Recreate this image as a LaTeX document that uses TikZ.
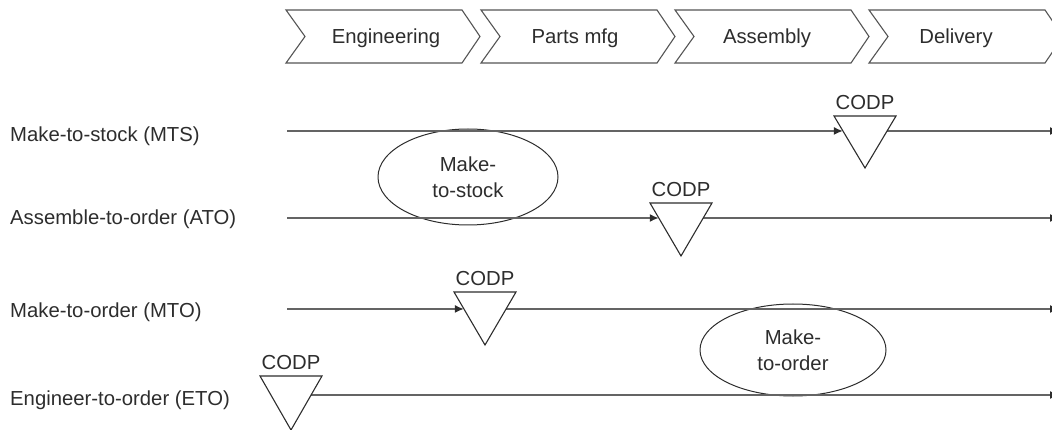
\documentclass[tikz,border=0pt]{standalone}
\usepackage{fontspec}
\setmainfont{Liberation Sans}
\usetikzlibrary{arrows.meta,calc,shapes.geometric}
\definecolor{ink}{RGB}{45,45,45}
\definecolor{flow}{RGB}{100,100,100}
\definecolor{edge}{RGB}{85,85,85}

\begin{document}
\begin{tikzpicture}[x=1pt,y=-1pt,
  txt/.style={font=\fontsize{20.3}{26}\selectfont, text=ink, inner sep=0pt},
  stage/.style={draw=edge, line width=1.1pt, fill=white, line join=miter},
  flowline/.style={draw=flow, line width=1.6pt},
  tip/.style={-{Latex[length=9pt,width=8pt,color=ink]}},
  codpmark/.style={draw=ink, line width=1.1pt, line join=miter},
  zone/.style={ellipse, draw=ink, line width=1pt, align=center}
]
\useasboundingbox (0,0) rectangle (1052,430);

% process stages as chevrons
\foreach \x in {286,481,675,869}
  \draw[stage] (\x,10) -- ++(176,0) -- ++(18,26.5) -- ++(-18,26.5)
               -- ++(-176,0) -- ++(19,-26.5) -- cycle;
\node[txt, anchor=base] (eng) at (386,44) {Engineering};
\node[txt, anchor=base] (mfg) at (575,44) {Parts mfg};
\node[txt, anchor=base] (asm) at (767,44) {Assembly};
\node[txt, anchor=base] (dlv) at (956,44) {Delivery};

% strategy names
\node[txt, anchor=base west] (mts) at (10,141.5) {Make-to-stock (MTS)};
\node[txt, anchor=base west] (ato) at (10,225) {Assemble-to-order (ATO)};
\node[txt, anchor=base west] (mto) at (10,317) {Make-to-order (MTO)};
\node[txt, anchor=base west] (eto) at (10,405) {Engineer-to-order (ETO)};

% stock / order zones
\node[zone, txt, minimum width=180pt, minimum height=96pt] (stock) at (468,177) {Make-\\to-stock};
\node[zone, txt, minimum width=186pt, minimum height=92pt] (order) at (793,350) {Make-\\to-order};

% decoupling point markers: top-left, top-right, apex
\coordinate (t1l) at (834,116); \coordinate (t1r) at (896,116); \coordinate (t1a) at (865,168);
\coordinate (t2l) at (650,203); \coordinate (t2r) at (712,203); \coordinate (t2a) at (681,256);
\coordinate (t3l) at (454,292); \coordinate (t3r) at (516,292); \coordinate (t3a) at (485,345);
\coordinate (t4l) at (260,376); \coordinate (t4r) at (322,376); \coordinate (t4a) at (291,430);

% flow lines
\coordinate (r1s) at (287,131); \coordinate (r1e) at (1059,131);
\coordinate (r2s) at (287,218); \coordinate (r2e) at (1059,218);
\coordinate (r3s) at (287,309); \coordinate (r3e) at (1059,309);
\coordinate (r4e) at (1059,395);

\coordinate (r1in)  at ($(t1l)!0.288!(t1a)$);
\coordinate (r1out) at ($(t1r)!0.288!(t1a)$);
\coordinate (r2in)  at ($(t2l)!0.283!(t2a)$);
\coordinate (r2out) at ($(t2r)!0.283!(t2a)$);
\coordinate (r3in)  at ($(t3l)!0.32!(t3a)$);
\coordinate (r3out) at ($(t3r)!0.32!(t3a)$);
\coordinate (r4out) at ($(t4r)!0.352!(t4a)$);

\draw[flowline, tip] (r1s) -- (r1in);
\draw[flowline, tip] (r1out) -- (r1e);
\draw[flowline, tip] (r2s) -- (r2in);
\draw[flowline, tip] (r2out) -- (r2e);
\draw[flowline, tip] (r3s) -- (r3in);
\draw[flowline, tip] (r3out) -- (r3e);
\draw[flowline, tip] (r4out) -- (r4e);

\foreach \i in {1,2,3,4} {
  \draw[codpmark] (t\i l) -- (t\i r) -- (t\i a) -- cycle;
  \node[txt, anchor=base] (codp\i) at ($(t\i l)!.5!(t\i r) + (0,-6.5)$) {CODP};
}
\end{tikzpicture}
\end{document}
